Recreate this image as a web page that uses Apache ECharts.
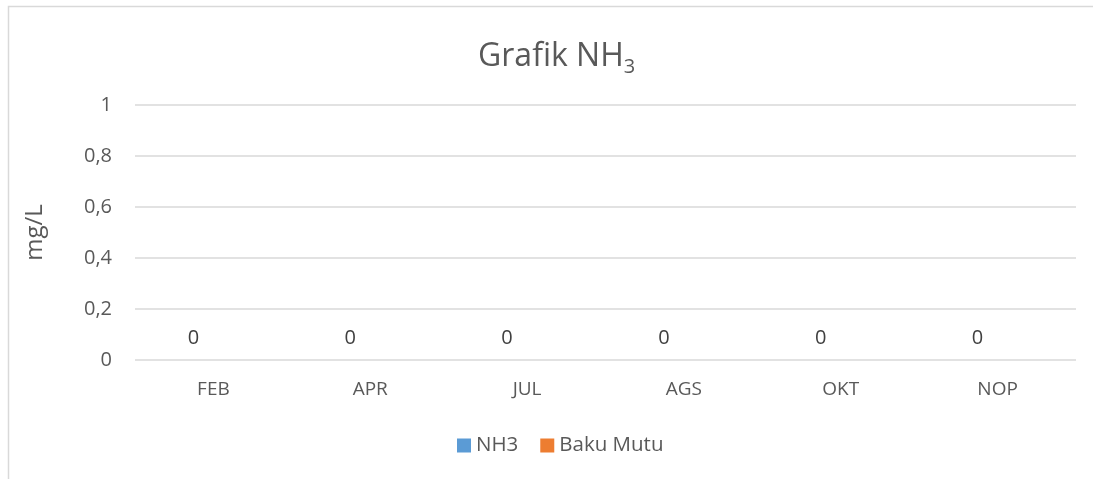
<!DOCTYPE html>
<html>
<head>
<meta charset="utf-8">
<script src="https://cdn.jsdelivr.net/npm/echarts@6/dist/echarts.min.js"></script>
<style>
  html, body { margin: 0; padding: 0; background: #fff; }
  #chart { width: 1093px; height: 479px; }
</style>
</head>
<body>
<div id="chart"></div>
<script>
const categories = ['FEB', 'APR', 'JUL', 'AGS', 'OKT', 'NOP'];
const nh3Values = [0, 0, 0, 0, 0, 0];
const bakuMutuValues = [null, null, null, null, null, null];
const yTicks = [0, 0.2, 0.4, 0.6, 0.8, 1];

const textColor = '#595959';
const fontName = '"Open Sans", "Noto Sans", sans-serif';

let chart = echarts.init(document.getElementById('chart'));

let option = {
    backgroundColor: '#fff',
    textStyle: { fontFamily: fontName },
    graphic: [{
        type: 'rect',
        shape: { x: 8.5, y: 6.5, width: 1200, height: 600 },
        style: { fill: 'none', stroke: '#d9d9d9', lineWidth: 1.5 },
        silent: true
    }],
    title: {
        text: '{a|Grafik NH}{b|3}',
        left: 473,
        top: 31,
        textStyle: {
            fontWeight: 'normal',
            rich: {
                a: { fontSize: 32, fontWeight: 'normal', color: textColor, fontFamily: fontName },
                b: { fontSize: 20, fontWeight: 'normal', color: textColor, fontFamily: fontName, padding: [21, 0, 0, 0] }
            }
        }
    },
    legend: {
        top: 430,
        left: 452,
        itemWidth: 14,
        itemHeight: 14,
        itemGap: 22,
        icon: 'rect',
        textStyle: { color: textColor, fontSize: 20.5, fontFamily: fontName },
        data: ['NH3', 'Baku Mutu']
    },
    grid: {
        left: 135,
        right: 17,
        top: 105,
        bottom: 119
    },
    xAxis: {
        type: 'category',
        data: categories,
        axisLine: { show: false },
        axisTick: { show: false },
        axisLabel: { color: textColor, fontSize: 19, margin: 20, fontFamily: fontName }
    },
    yAxis: {
        type: 'value',
        min: 0,
        max: 1,
        interval: 0.2,
        name: 'mg/L',
        nameLocation: 'middle',
        nameGap: 88,
        nameTextStyle: { color: textColor, fontSize: 24, fontFamily: fontName },
        axisLine: { show: false },
        axisTick: { show: false },
        splitLine: { lineStyle: { color: '#d9d9d9', width: 1.5 } },
        axisLabel: {
            color: textColor,
            fontSize: 20,
            margin: 23,
            fontFamily: fontName,
            formatter: function (v) {
                let t = yTicks.find(x => Math.abs(x - v) < 1e-9);
                return String(t === undefined ? v : t).replace('.', ',');
            }
        }
    },
    series: [{
        name: 'NH3',
        type: 'bar',
        data: nh3Values,
        barWidth: 40,
        barGap: '0%',
        itemStyle: { color: '#5B9BD5' },
        label: {
            show: true,
            position: 'top',
            distance: 12,
            color: '#404040',
            fontSize: 20,
            fontFamily: fontName
        }
    }, {
        name: 'Baku Mutu',
        type: 'bar',
        data: bakuMutuValues,
        barWidth: 40,
        barGap: '0%',
        itemStyle: { color: '#ED7D31' }
    }]
};

chart.setOption(option);
</script>
</body>
</html>
